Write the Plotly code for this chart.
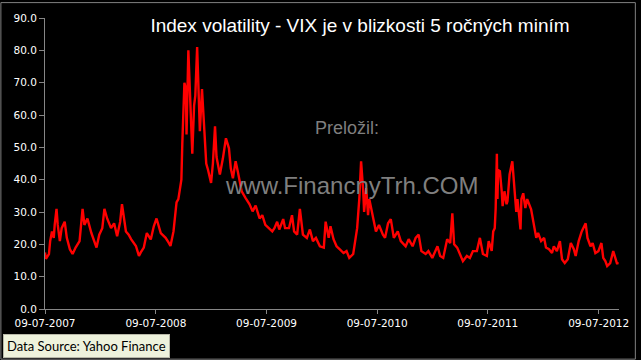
import plotly.graph_objects as go

dates = [
    "2007-07-09", "2007-07-12", "2007-07-22", "2007-07-26", "2007-08-01", "2007-08-07", "2007-08-10",
    "2007-08-16", "2007-08-20", "2007-08-27", "2007-09-02", "2007-09-12", "2007-09-19", "2007-09-29",
    "2007-10-08", "2007-10-18", "2007-10-31", "2007-11-05", "2007-11-10", "2007-11-16", "2007-11-26",
    "2007-12-09", "2007-12-19", "2007-12-26", "2008-01-04", "2008-01-14", "2008-01-21", "2008-01-30",
    "2008-02-12", "2008-02-22", "2008-03-03", "2008-03-13", "2008-03-19", "2008-03-26", "2008-04-01",
    "2008-04-10", "2008-04-18", "2008-05-04", "2008-05-14", "2008-05-20", "2008-05-30", "2008-06-09",
    "2008-06-22", "2008-07-02", "2008-07-11", "2008-07-25", "2008-08-10", "2008-08-20", "2008-08-26",
    "2008-09-05", "2008-09-15", "2008-09-21", "2008-09-28", "2008-10-01", "2008-10-04", "2008-10-11",
    "2008-10-16", "2008-10-18", "2008-10-24", "2008-10-30", "2008-11-06", "2008-11-12", "2008-11-16",
    "2008-11-22", "2008-11-28", "2008-12-01", "2008-12-08", "2008-12-15", "2008-12-22", "2008-12-28",
    "2009-01-04", "2009-01-07", "2009-01-13", "2009-01-20", "2009-01-25", "2009-01-30", "2009-02-05",
    "2009-02-15", "2009-02-25", "2009-03-07", "2009-03-13", "2009-03-20", "2009-03-29", "2009-04-05",
    "2009-04-11", "2009-04-18", "2009-05-01", "2009-05-14", "2009-05-24", "2009-06-03", "2009-06-16",
    "2009-06-25", "2009-07-05", "2009-07-18", "2009-07-28", "2009-08-04", "2009-08-13", "2009-08-20",
    "2009-09-02", "2009-09-08", "2009-09-21", "2009-10-01", "2009-10-08", "2009-10-18", "2009-10-27",
    "2009-11-06", "2009-11-19", "2009-11-29", "2009-12-09", "2009-12-19", "2010-01-01", "2010-01-14",
    "2010-01-20", "2010-01-30", "2010-02-05", "2010-02-15", "2010-02-25", "2010-03-07", "2010-03-20",
    "2010-03-30", "2010-04-08", "2010-04-21", "2010-04-25", "2010-05-04", "2010-05-11", "2010-05-17",
    "2010-05-24", "2010-05-27", "2010-06-03", "2010-06-09", "2010-06-13", "2010-06-22", "2010-06-26",
    "2010-07-05", "2010-07-15", "2010-07-28", "2010-08-04", "2010-08-14", "2010-08-23", "2010-09-02",
    "2010-09-15", "2010-09-25", "2010-10-11", "2010-10-21", "2010-11-03", "2010-11-13", "2010-11-23",
    "2010-12-02", "2010-12-16", "2010-12-25", "2011-01-07", "2011-01-24", "2011-02-02", "2011-02-12",
    "2011-02-25", "2011-03-07", "2011-03-14", "2011-03-20", "2011-03-30", "2011-04-09", "2011-04-18",
    "2011-05-01", "2011-05-11", "2011-05-21", "2011-06-03", "2011-06-13", "2011-06-23", "2011-07-06",
    "2011-07-12", "2011-07-22", "2011-07-27", "2011-08-01", "2011-08-04", "2011-08-08", "2011-08-10",
    "2011-08-12", "2011-08-18", "2011-08-24", "2011-08-27", "2011-09-02", "2011-09-09", "2011-09-12",
    "2011-09-19", "2011-09-28", "2011-10-05", "2011-10-11", "2011-10-15", "2011-10-25", "2011-10-28",
    "2011-11-03", "2011-11-10", "2011-11-16", "2011-11-29", "2011-12-09", "2011-12-16", "2011-12-22",
    "2012-01-01", "2012-01-11", "2012-01-17", "2012-01-27", "2012-02-06", "2012-02-12", "2012-02-22",
    "2012-03-03", "2012-03-10", "2012-03-19", "2012-03-29", "2012-04-08", "2012-04-18", "2012-04-24",
    "2012-05-04", "2012-05-14", "2012-05-27", "2012-06-02", "2012-06-12", "2012-06-19", "2012-06-28",
    "2012-07-08", "2012-07-18", "2012-07-24", "2012-07-31", "2012-08-06", "2012-08-16", "2012-08-26",
    "2012-09-02", "2012-09-08", "2012-09-10",
]

vix = [
    17.5, 15.5, 17.0, 21.0, 24.0, 22.0, 26.0,
    31.0, 26.0, 21.0, 25.0, 27.0, 22.0, 18.5,
    17.0, 19.0, 21.0, 25.0, 31.0, 26.0, 28.0,
    23.5, 21.0, 19.0, 23.0, 25.0, 31.0, 28.0,
    25.0, 26.5, 22.5, 27.0, 32.4, 27.0, 24.0,
    23.0, 21.6, 19.5, 16.4, 17.5, 19.0, 23.5,
    21.5, 25.6, 28.0, 23.5, 22.0, 20.5, 19.5,
    24.0, 33.0, 34.0, 39.0, 40.0, 51.0, 70.0,
    68.0, 54.0, 80.0, 66.0, 48.0, 63.0, 66.0,
    81.0, 66.0, 55.0, 68.0, 58.0, 45.0, 43.0,
    40.0, 39.0, 45.0, 56.5, 47.0, 45.0, 41.6,
    46.6, 52.8, 49.7, 43.5, 40.4, 45.7, 42.6,
    39.5, 36.4, 34.3, 32.4, 30.2, 32.0, 28.0,
    29.0, 26.0, 25.0, 24.0, 25.0, 27.0, 24.6,
    27.8, 25.0, 25.0, 29.0, 24.0, 23.0, 31.0,
    23.0, 22.0, 24.6, 21.0, 22.0, 19.4, 19.0,
    27.0, 22.0, 25.6, 21.6, 19.4, 18.5, 17.3,
    17.9, 15.8, 17.0, 20.0, 25.0, 34.0, 45.7,
    36.4, 30.0, 37.4, 29.0, 34.0, 30.0, 29.0,
    24.0, 26.0, 23.0, 22.0, 26.5, 27.8, 22.0,
    24.0, 21.0, 19.4, 21.6, 19.4, 22.0, 23.0,
    17.9, 17.0, 17.9, 15.8, 19.4, 16.4, 15.8,
    21.6, 20.4, 29.6, 20.0, 19.0, 17.0, 14.8,
    16.4, 15.8, 17.9, 17.9, 22.0, 17.0, 16.4,
    21.0, 18.0, 24.0, 25.0, 31.0, 48.0, 34.0,
    43.0, 42.6, 36.4, 31.8, 36.4, 32.4, 33.3,
    41.6, 45.7, 38.6, 30.0, 34.0, 24.6, 34.0,
    35.8, 31.2, 34.0, 30.8, 26.2, 22.0, 23.5,
    21.0, 22.0, 19.0, 18.5, 17.3, 19.4, 17.9,
    21.0, 15.4, 14.2, 15.4, 20.4, 18.5, 16.4,
    21.0, 24.0, 26.5, 22.0, 19.4, 20.4, 17.3,
    17.9, 20.4, 15.8, 14.8, 13.3, 14.2, 17.9,
    15.8, 13.9, 14.5,
]

tick_dates = ["2007-07-09", "2008-07-09", "2009-07-09", "2010-07-09", "2011-07-09", "2012-07-09"]
tick_labels = ["09-07-2007", "09-07-2008", "09-07-2009", "09-07-2010", "09-07-2011", "09-07-2012"]

title_text = "Index volatility - VIX je v blizkosti 5 ročných miním"
source_text = "Data Source: Yahoo Finance"

W, H = 641, 360
L, R, T, B = 45, 17, 16, 51
pw, ph = W - L - R, H - T - B

fig = go.Figure()
fig.add_trace(go.Scatter(
    x=dates, y=vix, mode="lines",
    line=dict(color="#FF0000", width=2.4),
    hoverinfo="skip", showlegend=False,
))

axis_col = "#868686"
tick_font = dict(family="DejaVu Sans", size=10.5, color="#FFFFFF")

fig.update_layout(
    width=W, height=H,
    margin=dict(l=L, r=R, t=T, b=B),
    paper_bgcolor="#000000", plot_bgcolor="#000000",
    title=dict(text=title_text, x=360 / W, xanchor="center",
               y=1 - 25 / H, yanchor="middle",
               font=dict(family="Liberation Sans", size=19, color="#FFFFFF")),
    xaxis=dict(type="date", range=["2007-07-09", "2012-09-14"],
               tickmode="array", tickvals=tick_dates, ticktext=tick_labels,
               showline=True, linecolor=axis_col, linewidth=1,
               ticks="outside", ticklen=4, tickcolor=axis_col,
               showgrid=False, zeroline=False, tickfont=tick_font),
    yaxis=dict(range=[0, 90], dtick=10, tick0=0, tickformat=".1f",
               showline=True, linecolor=axis_col, linewidth=1,
               ticks="outside", ticklen=5, tickcolor=axis_col,
               showgrid=False, zeroline=False, tickfont=tick_font),
    annotations=[
        dict(text="Preložil:", xref="paper", yref="paper",
             x=(350 - L) / pw, y=(H - B - 127) / ph, showarrow=False,
             xanchor="center", yanchor="middle",
             font=dict(family="Liberation Sans", size=18, color="#7F7F7F")),
        dict(text="www.FinancnyTrh.COM", xref="paper", yref="paper",
             x=(355 - L) / pw, y=(H - B - 185) / ph, showarrow=False,
             xanchor="center", yanchor="middle",
             font=dict(family="Liberation Sans", size=24, color="#7F7F7F")),
        dict(text=source_text, xref="paper", yref="paper",
             x=(3 - L) / pw, y=(H - B - 358) / ph, showarrow=False,
             xanchor="left", yanchor="bottom",
             bgcolor="#EEF2DC", bordercolor="#B8B8A8", borderwidth=1, borderpad=3,
             font=dict(family="Lato", size=13, color="#000000")),
    ],
    shapes=[
        dict(type="rect", xref="paper", yref="paper",
             x0=(0.5 - L) / pw, x1=(W - 0.5 - L) / pw,
             y0=(H - B - H + 0.5) / ph, y1=(H - B - 0.5) / ph,
             line=dict(color="#808080", width=1), fillcolor="rgba(0,0,0,0)", layer="below"),
    ],
)

fig.write_html("out.html")
